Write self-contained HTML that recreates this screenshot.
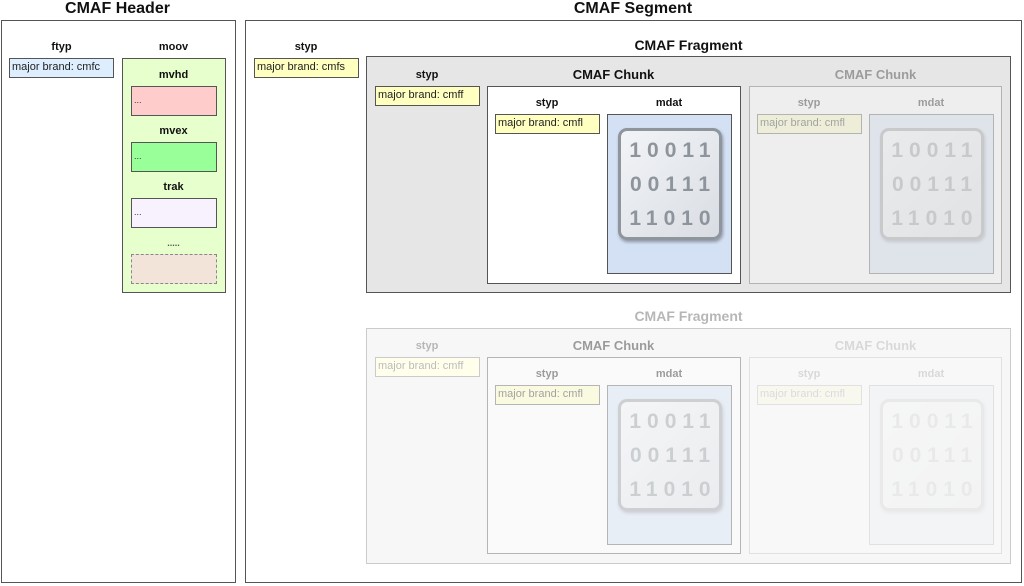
<!DOCTYPE html>
<html><head><meta charset="utf-8"><style>
*{box-sizing:border-box;margin:0;padding:0}
body{width:1024px;height:586px;background:#fff;position:relative;overflow:hidden;font-family:"Liberation Sans",sans-serif;color:#111}
.a{position:absolute}
.b{position:absolute;border:1px solid #555}
.t{position:absolute;font-weight:bold;text-align:center;white-space:nowrap}
.lbl{font-size:11px}
.big{font-size:15px}
.mid{font-size:13px}
.mb{position:absolute;border:1px solid #555;font-size:11px;padding:1px 2px;line-height:14px;white-space:nowrap;color:#222}
.y{background:#ffffc0}
.dots{font-size:9px;padding:8px 0 0 2px;color:#333}
.icon{position:absolute;border:3px solid #8f959c;border-radius:9px;background:linear-gradient(135deg,#f2f4f7,#d9dde3);box-shadow:1px 2px 3px rgba(0,0,0,.35)}
.icon div{position:absolute;left:0;width:100%;text-align:center;font-weight:bold;font-size:21px;letter-spacing:6px;color:#8e949b;padding-left:6px}
</style></head><body>

<div class="t" style="left:0;width:235px;top:0px;font-size:16px">CMAF Header</div>
<div class="b" style="left:1px;top:20px;width:235px;height:563px"></div>
<div class="t lbl" style="left:10px;width:103px;top:41px">ftyp</div>
<div class="mb" style="left:9px;top:58px;width:105px;height:20px;background:#ddeeff">major brand: cmfc</div>
<div class="t lbl" style="left:122px;width:103px;top:41px">moov</div>
<div class="b" style="left:122px;top:58px;width:104px;height:235px;background:#e6ffcc"></div>
<div class="t lbl" style="left:122px;width:103px;top:69px">mvhd</div>
<div class="b dots" style="left:131px;top:86px;width:86px;height:30px;background:#ffcccc">...</div>
<div class="t lbl" style="left:122px;width:103px;top:125px">mvex</div>
<div class="b dots" style="left:131px;top:142px;width:86px;height:30px;background:#99ff99">...</div>
<div class="t lbl" style="left:122px;width:103px;top:181px">trak</div>
<div class="b dots" style="left:131px;top:198px;width:86px;height:30px;background:#f8f2ff">...</div>
<div class="t" style="left:122px;width:103px;top:238px;font-size:9px;color:#555">.....</div>
<div class="a" style="left:131px;top:254px;width:86px;height:30px;background:#f2e4d8;border:1px dashed #888"></div>

<div class="t" style="left:245px;width:776px;top:0px;font-size:16px">CMAF Segment</div>
<div class="b" style="left:245px;top:20px;width:777px;height:563px"></div>
<div class="t lbl" style="left:254px;width:104px;top:41px">styp</div>
<div class="mb y" style="left:254px;top:58px;width:105px;height:20px">major brand: cmfs</div>

<!-- Fragment 1 -->
<div class="t big" style="left:366px;width:645px;top:37px;font-size:14px">CMAF Fragment</div>
<div class="b" style="left:366px;top:56px;width:645px;height:237px;background:#e6e6e6"></div>
<div class="t lbl" style="left:375px;width:104px;top:69px">styp</div>
<div class="mb y" style="left:375px;top:86px;width:105px;height:20px">major brand: cmff</div>

<div class="a" style="left:487px;top:86px">
 <div class="t mid" style="left:0;width:253px;top:-19px">CMAF Chunk</div>
 <div class="b" style="left:0;top:0;width:254px;height:198px;background:#fff"></div>
 <div class="t lbl" style="left:8px;width:104px;top:11px">styp</div>
 <div class="mb y" style="left:8px;top:28px;width:105px;height:20px">major brand: cmfl</div>
 <div class="t lbl" style="left:120px;width:124px;top:11px">mdat</div>
 <div class="b" style="left:120px;top:28px;width:125px;height:160px;background:#d4e1f5"></div>
 <div class="icon" style="left:131px;top:42px;width:104px;height:112px">
  <div style="top:8px">10011</div><div style="top:42px">00111</div><div style="top:76px">11010</div>
 </div>
</div>

<div class="a" style="left:749px;top:86px;opacity:.35">
 <div class="t mid" style="left:0;width:253px;top:-19px">CMAF Chunk</div>
 <div class="b" style="left:0;top:0;width:253px;height:198px;background:#fff"></div>
 <div class="t lbl" style="left:8px;width:104px;top:11px">styp</div>
 <div class="mb y" style="left:8px;top:28px;width:105px;height:20px">major brand: cmfl</div>
 <div class="t lbl" style="left:120px;width:124px;top:11px">mdat</div>
 <div class="b" style="left:120px;top:28px;width:125px;height:160px;background:#d4e1f5"></div>
 <div class="icon" style="left:131px;top:42px;width:104px;height:112px">
  <div style="top:8px">10011</div><div style="top:42px">00111</div><div style="top:76px">11010</div>
 </div>
</div>

<!-- Fragment 2 (faded) -->
<div class="a" style="left:0;top:0;width:1024px;height:586px;opacity:.3">
 <div class="t big" style="left:366px;width:645px;top:308px;font-size:14px">CMAF Fragment</div>
 <div class="b" style="left:366px;top:328px;width:645px;height:236px;background:#e6e6e6"></div>
 <div class="t lbl" style="left:375px;width:104px;top:340px">styp</div>
 <div class="mb y" style="left:375px;top:357px;width:105px;height:20px">major brand: cmff</div>
</div>
<div class="a" style="left:487px;top:357px;opacity:.4">
 <div class="t mid" style="left:0;width:253px;top:-19px">CMAF Chunk</div>
 <div class="b" style="left:0;top:0;width:254px;height:197px;background:#fff"></div>
 <div class="t lbl" style="left:8px;width:104px;top:11px">styp</div>
 <div class="mb y" style="left:8px;top:28px;width:105px;height:20px">major brand: cmfl</div>
 <div class="t lbl" style="left:120px;width:124px;top:11px">mdat</div>
 <div class="b" style="left:120px;top:28px;width:125px;height:160px;background:#d4e1f5"></div>
 <div class="icon" style="left:131px;top:42px;width:104px;height:112px">
  <div style="top:8px">10011</div><div style="top:42px">00111</div><div style="top:76px">11010</div>
 </div>
</div>
<div class="a" style="left:749px;top:357px;opacity:.13">
 <div class="t mid" style="left:0;width:253px;top:-19px">CMAF Chunk</div>
 <div class="b" style="left:0;top:0;width:253px;height:197px;background:#fff"></div>
 <div class="t lbl" style="left:8px;width:104px;top:11px">styp</div>
 <div class="mb y" style="left:8px;top:28px;width:105px;height:20px">major brand: cmfl</div>
 <div class="t lbl" style="left:120px;width:124px;top:11px">mdat</div>
 <div class="b" style="left:120px;top:28px;width:125px;height:160px;background:#d4e1f5"></div>
 <div class="icon" style="left:131px;top:42px;width:104px;height:112px">
  <div style="top:8px">10011</div><div style="top:42px">00111</div><div style="top:76px">11010</div>
 </div>
</div>

</body></html>
